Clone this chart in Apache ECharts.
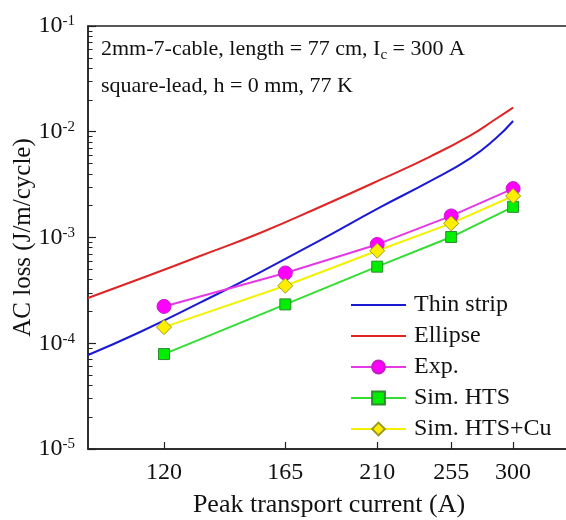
<!DOCTYPE html>
<html>
<head>
<meta charset="utf-8">
<script src="https://cdn.jsdelivr.net/npm/echarts@6/dist/echarts.min.js"></script>
<style>
  html, body { margin: 0; padding: 0; background: #fff; }
  #chart { width: 566px; height: 520px; }
</style>
</head>
<body>
<div id="chart"></div>
<script>
// tick values
const xTicks = [120, 165, 210, 255, 300];
const yTicks = [1e-5, 1e-4, 1e-3, 1e-2, 1e-1];

// measured / simulated points
const simCurrent = [120, 165, 210, 255, 300];
const expLoss = [2.23e-4, 4.62e-4, 8.6e-4, 1.6e-3, 2.9e-3];
const htsLoss = [7.9e-5, 2.33e-4, 5.3e-4, 1.01e-3, 1.95e-3];
const htsCuLoss = [1.42e-4, 3.5e-4, 7.5e-4, 1.36e-3, 2.47e-3];

// analytic curves
const curveCurrent = [98.3, 112.7, 131.9, 154.4, 180.7, 211.5, 241.3, 268, 286.1, 300];
const stripLoss = [7.74e-5, 1.277e-4, 2.42e-4, 4.69e-4, 9.39e-4, 1.926e-3, 3.41e-3, 5.61e-3, 8.54e-3, 1.264e-2];
const ellipseLoss = [2.68e-4, 4.07e-4, 6.68e-4, 1.103e-3, 1.943e-3, 3.5e-3, 5.83e-3, 9.21e-3, 1.305e-2, 1.69e-2];

// minor ticks 2..9 in every decade
const yMinor = [];
yTicks.slice(0, -1).forEach(function (d) {
  for (let k = 2; k <= 9; k++) yMinor.push(d * k);
});

const pairs = (xs, ys) => xs.map((x, i) => [x, ys[i]]);
const font = "Liberation Serif";
const ink = "#222";

const chart = echarts.init(document.getElementById("chart"));

const option = {
  animation: false,
  textStyle: { fontFamily: font, color: "#111" },
  grid: {
    left: 88,
    top: 26,
    right: -4,
    bottom: 71,
    containLabel: false,
    outerBoundsMode: "none",
    show: true,
    borderColor: ink,
    borderWidth: 1.5,
  },
  xAxis: {
    type: "log",
    min: 98.3,
    max: 348.3,
    name: "Peak transport current (A)",
    nameLocation: "middle",
    nameGap: 43,
    nameTextStyle: { fontSize: 26, fontFamily: font, color: "#111" },
    axisLine: { lineStyle: { color: ink, width: 1.5 } },
    axisTick: { inside: true, length: 7, customValues: xTicks, lineStyle: { color: ink, width: 1.2 } },
    axisLabel: { customValues: xTicks, fontSize: 24, margin: 12, color: "#111", fontFamily: font },
    splitLine: { show: false },
    minorTick: { show: false },
  },
  yAxis: [
    {
      type: "log",
      min: 1e-5,
      max: 1e-1,
      name: "AC loss (J/m/cycle)",
      nameLocation: "middle",
      nameGap: 52,
      nameMoveOverlap: false,
      nameTextStyle: { fontSize: 25, fontFamily: font, color: "#111" },
      axisLine: { show: true, lineStyle: { color: ink, width: 1.5 } },
      axisTick: { inside: true, length: 8, customValues: yTicks, lineStyle: { color: ink, width: 1.2 } },
      axisLabel: {
        customValues: yTicks,
        margin: 13,
        formatter: function (v) {
          return "{b|10}{s|" + Math.round(Math.log10(v)) + "}";
        },
        rich: {
          b: { fontSize: 24, fontFamily: font, color: "#111", lineHeight: 24 },
          s: { fontSize: 15, fontFamily: font, color: "#111", verticalAlign: "top", lineHeight: 15 },
        },
      },
      splitLine: { show: false },
    },
    {
      type: "log",
      min: 1e-5,
      max: 1e-1,
      position: "left",
      axisLine: { show: false },
      axisTick: { show: true, inside: true, length: 4.5, customValues: yMinor, lineStyle: { color: ink, width: 1 } },
      axisLabel: { show: false },
      splitLine: { show: false },
    },
  ],
  legend: {
    orient: "vertical",
    left: 345,
    top: 288,
    itemWidth: 55,
    itemHeight: 16,
    itemGap: 7,
    textStyle: { fontSize: 24, fontFamily: font, color: "#111", padding: [0, 0, 0, 3] },
    data: ["Thin strip", "Ellipse", "Exp.", "Sim. HTS", "Sim. HTS+Cu"],
  },
  graphic: [
    {
      type: "text",
      left: 101,
      top: 38,
      style: {
        text: "{a|2mm-7-cable, length = 77 cm, I}{c|c}{a| = 300 A}",
        rich: {
          a: { fontSize: 22, fontFamily: font, fill: "#111", verticalAlign: "top", lineHeight: 22 },
          c: { fontSize: 15, fontFamily: font, fill: "#111", verticalAlign: "top", padding: [10, 0, 0, 0] },
        },
      },
    },
    {
      type: "text",
      left: 101,
      top: 75,
      style: { text: "square-lead, h = 0 mm, 77 K", fontSize: 22, fontFamily: font, fill: "#111" },
    },
  ],
  series: [
    {
      name: "Thin strip",
      type: "line",
      data: pairs(curveCurrent, stripLoss),
      smooth: true,
      symbol: "none",
      lineStyle: { color: "#1a1ad6", width: 2 },
      itemStyle: { color: "#1a1ad6", opacity: 0 },
    },
    {
      name: "Ellipse",
      type: "line",
      data: pairs(curveCurrent, ellipseLoss),
      smooth: true,
      symbol: "none",
      lineStyle: { color: "#e02424", width: 2 },
      itemStyle: { color: "#e02424", opacity: 0 },
    },
    {
      name: "Exp.",
      type: "line",
      data: pairs(simCurrent, expLoss),
      symbol: "circle",
      symbolSize: 14,
      lineStyle: { color: "#e639e6", width: 2 },
      itemStyle: { color: "#ff00ff", borderColor: "#c21ec2", borderWidth: 1 },
    },
    {
      name: "Sim. HTS",
      type: "line",
      data: pairs(simCurrent, htsLoss),
      symbol: "rect",
      symbolSize: 11,
      lineStyle: { color: "#33dd33", width: 2 },
      itemStyle: { color: "#00ee00", borderColor: "#2e8b2e", borderWidth: 1 },
    },
    {
      name: "Sim. HTS+Cu",
      type: "line",
      data: pairs(simCurrent, htsCuLoss),
      symbol: "diamond",
      symbolSize: 15,
      lineStyle: { color: "#f2f200", width: 2 },
      itemStyle: { color: "#ffee00", borderColor: "#9a9a20", borderWidth: 1 },
    },
  ],
};

chart.setOption(option);
</script>
</body>
</html>
